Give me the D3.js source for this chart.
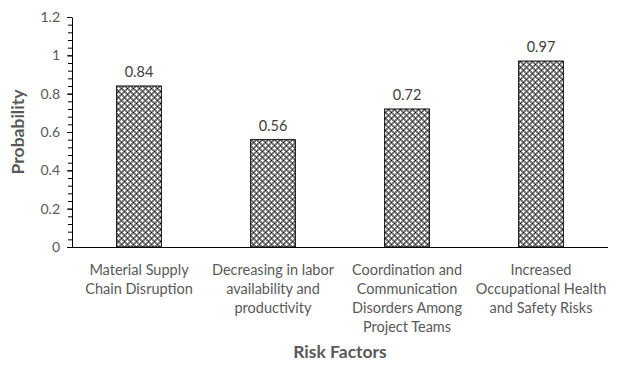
<!DOCTYPE html>
<html><head><meta charset="utf-8">
<script src="https://cdn.jsdelivr.net/npm/d3@7"></script>
<style>body{margin:0;background:#fff}svg{display:block}</style>
</head><body>
<svg id="c" width="622" height="367"></svg>
<script>
const categories = [
  "Material Supply\nChain Disruption",
  "Decreasing in labor\navailability and\nproductivity",
  "Coordination and\nCommunication\nDisorders Among\nProject Teams",
  "Increased\nOccupational Health\nand Safety Risks"
];
const values = [0.84, 0.56, 0.72, 0.97];
const yTicks = [0, 0.2, 0.4, 0.6, 0.8, 1, 1.2];
const yTickLabels = ["0", "0.2", "0.4", "0.6", "0.8", "1", "1.2"];
const yTitle = "Probability";
const xTitle = "Risk Factors";

const svg = d3.select("#c");
const m = {l: 72, r: 608, t: 17, b: 247};
const font = "Lato, 'Open Sans', sans-serif";

const defs = svg.append("defs");
const pat = defs.append("pattern").attr("id","chk").attr("patternUnits","userSpaceOnUse")
  .attr("width",6).attr("height",6);
pat.append("rect").attr("width",6).attr("height",6).attr("fill","#7a7a7a");
pat.append("rect").attr("x",0).attr("y",1).attr("width",3).attr("height",1).attr("fill","#fff");
pat.append("rect").attr("x",1).attr("y",0).attr("width",1).attr("height",3).attr("fill","#fff");
pat.append("rect").attr("x",3).attr("y",4).attr("width",3).attr("height",1).attr("fill","#fff");
pat.append("rect").attr("x",4).attr("y",3).attr("width",1).attr("height",3).attr("fill","#fff");
pat.append("rect").attr("x",4).attr("y",1).attr("width",1).attr("height",1).attr("fill","#111");
pat.append("rect").attr("x",1).attr("y",4).attr("width",1).attr("height",1).attr("fill","#111");

const x = d3.scaleBand().domain(categories).range([m.l, m.r]).paddingInner(2/3).paddingOuter(1/3);
const y = d3.scaleLinear().domain([0, 1.2]).range([m.b, m.t]);

// bars
svg.append("g").selectAll("rect").data(values).join("rect")
  .attr("x",(d,i)=>x(categories[i])).attr("width",x.bandwidth())
  .attr("y",d=>y(d)).attr("height",d=>y(0)-y(d))
  .attr("fill","url(#chk)").attr("stroke","#000").attr("stroke-width",1);

// value labels
svg.append("g").selectAll("text").data(values).join("text")
  .attr("x",(d,i)=>x(categories[i])+x.bandwidth()/2).attr("y",d=>y(d)-9)
  .attr("text-anchor","middle").attr("font-family",font).attr("font-size",14.5).attr("fill","#404040")
  .text(d=>d);

// y axis minor ticks
const minor = d3.range(0, 1.2001, 0.04);
const ya = svg.append("g").attr("transform",`translate(${m.l},0)`)
  .call(d3.axisLeft(y).tickValues(minor).tickSize(4).tickFormat(""));
ya.select(".domain").remove();
ya.selectAll(".tick line").attr("stroke","#000");
const yb = svg.append("g").attr("transform",`translate(${m.l},0)`)
  .call(d3.axisLeft(y).tickValues(yTicks).tickSize(5).tickSizeOuter(0).tickPadding(7).tickFormat((d,i)=>yTickLabels[i]));
yb.select(".domain").attr("stroke","#000");
yb.selectAll(".tick line").attr("stroke","#000");
yb.selectAll(".tick text").attr("font-family",font).attr("font-size",14).attr("fill","#595959");

// x axis
const xa = svg.append("g").attr("transform",`translate(0,${m.b})`)
  .call(d3.axisBottom(x).tickSize(0).tickFormat(""));
xa.select(".domain").attr("stroke","#000").attr("d",`M${m.l},0.5H${m.r}`);
const lab = svg.append("g").selectAll("text").data(categories).join("text")
  .attr("x",d=>x(d)+x.bandwidth()/2).attr("y",275)
  .attr("text-anchor","middle").attr("font-family",font).attr("font-size",14.5).attr("fill","#595959");
lab.each(function(d){
  const t = d3.select(this);
  d.split("\n").forEach((s,i)=>t.append("tspan").attr("x",x(d)+x.bandwidth()/2).attr("dy",i?19:0).text(s));
});

// titles
svg.append("text").attr("transform","translate(24,132) rotate(-90)").attr("text-anchor","middle")
  .attr("font-family",font).attr("font-size",17.5).attr("font-weight","bold").attr("fill","#595959").text(yTitle);
svg.append("text").attr("x",340).attr("y",358).attr("text-anchor","middle")
  .attr("font-family",font).attr("font-size",17.5).attr("font-weight","bold").attr("fill","#595959").text(xTitle);
</script>
</body></html>
